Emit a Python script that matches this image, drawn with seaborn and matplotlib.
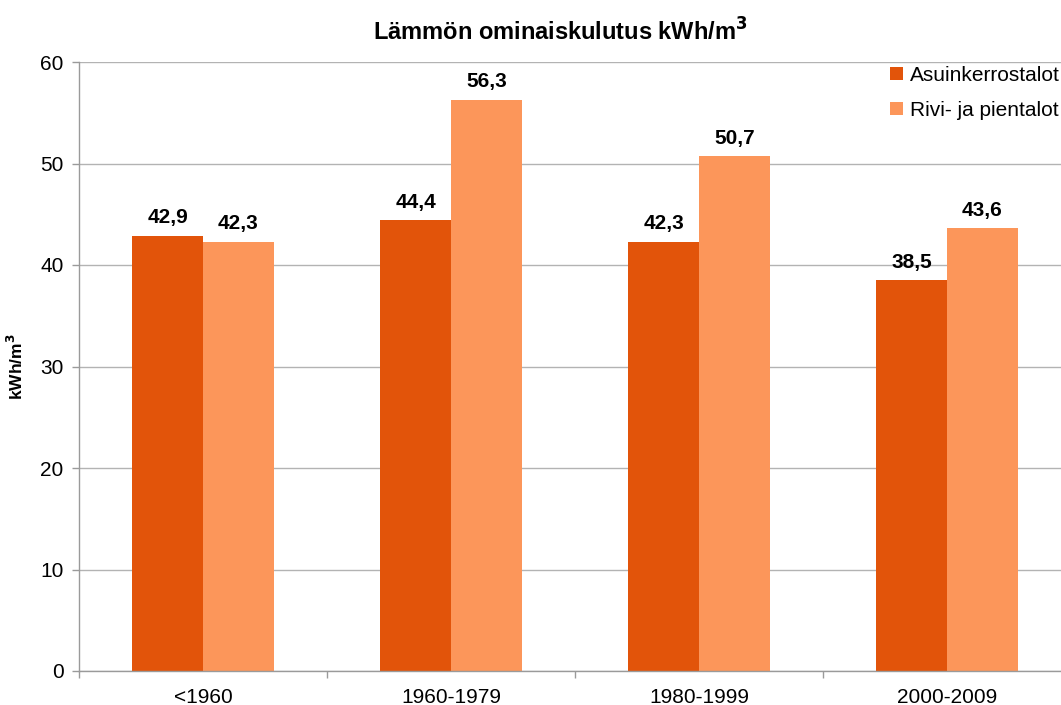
import matplotlib
matplotlib.use("Agg")
import matplotlib.pyplot as plt
import seaborn as sns
import pandas as pd
from matplotlib.patches import Patch

categories = ["<1960", "1960-1979", "1980-1999", "2000-2009"]
series_names = ["Asuinkerrostalot", "Rivi- ja pientalot"]
asuinkerrostalot = [42.9, 44.4, 42.3, 38.5]
rivi_pientalot = [42.3, 56.3, 50.7, 43.6]
colors = ["#E2540A", "#FC965A"]

df = pd.DataFrame({
    "cat": categories * 2,
    "series": [series_names[0]] * 4 + [series_names[1]] * 4,
    "val": asuinkerrostalot + rivi_pientalot,
})

sns.set_theme(style="white")
plt.rcParams['font.family'] = ['Liberation Sans', 'DejaVu Sans']
plt.rcParams['text.color'] = 'black'
plt.rcParams['axes.labelcolor'] = 'black'

fig = plt.figure(figsize=(10.61, 7.05), dpi=100)
ax = fig.add_axes([79/1061, 34/705, 992/1061, 609/705])

sns.barplot(data=df, x="cat", y="val", hue="series", palette=colors,
            width=0.57, saturation=1, ax=ax, legend=False, linewidth=0)

ax.set_xlim(-0.5, 3.5)
ax.set_ylim(0, 60)
ax.set_yticks(range(0, 61, 10))
ax.yaxis.grid(True, color="#B3B3B3", linewidth=1)
ax.set_axisbelow(True)
for s in ["top", "right"]:
    ax.spines[s].set_visible(False)
for s in ["left", "bottom"]:
    ax.spines[s].set_color("#9A9A9A")
    ax.spines[s].set_linewidth(1)

ax.set_xticks(range(4))
ax.set_xticklabels(categories)
ax.set_xticks([-0.5, 0.5, 1.5, 2.5, 3.5], minor=True)
ax.tick_params(axis="x", which="major", length=0, pad=12, labelsize=15, labelcolor="black")
ax.tick_params(axis="x", which="minor", length=5, width=1, color="#9A9A9A", direction="out", bottom=True)
ax.tick_params(axis="y", which="major", length=5, width=1, color="#9A9A9A", direction="out", left=True,
               labelsize=15, pad=6, labelcolor="black")
ax.set_xlabel("")
ax.set_ylabel("kWh/m$^\\mathbf{3}$", fontsize=12.5, fontweight="bold", labelpad=10, color="black")

for cont in ax.containers:
    for bar in cont:
        h = bar.get_height()
        ax.annotate(f"{h:.1f}".replace(".", ","),
                    (bar.get_x() + bar.get_width() / 2, h),
                    xytext=(0, 6), textcoords="offset points",
                    ha="center", va="bottom", fontsize=15, fontweight="bold", color="black")

fig.text(0.528, 1 - 32/705, "Lämmön ominaiskulutus kWh/m$^\\mathbf{3}$", ha="center", va="center",
         fontsize=17, fontweight="bold", color="black")

handles = [Patch(facecolor=c, edgecolor="none") for c in colors]
fig.legend(handles, series_names, loc="upper left", bbox_to_anchor=(890/1061, 1 - 66/705),
           frameon=False, fontsize=15, handlelength=0.6, handleheight=0.6,
           handletextpad=0.35, labelspacing=0.75, borderaxespad=0, borderpad=0,
           labelcolor="black")

fig.savefig("out.png", dpi=100)
